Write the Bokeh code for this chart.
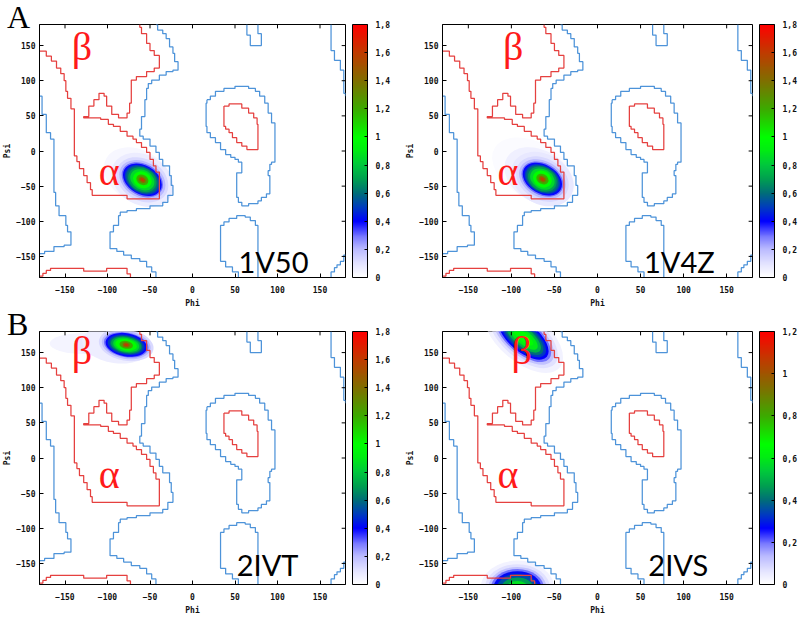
import numpy as np
from bokeh.plotting import figure
from bokeh.models import (Range1d, FixedTicker, ColorBar, LinearColorMapper,
                          Label, ColumnDataSource, Div)
from bokeh.layouts import column, row
from bokeh.embed import file_html
from bokeh.resources import INLINE

# ---------------- data ----------------
phi_ticks = [-150, -100, -50, 0, 50, 100, 150]
psi_ticks = [-150, -100, -50, 0, 50, 100, 150]

cbar_ticks_18 = [0, 0.2, 0.4, 0.6, 0.8, 1, 1.2, 1.4, 1.6, 1.8]
cbar_labels_18 = ["0", "0,2", "0,4", "0,6", "0,8", "1", "1,2", "1,4", "1,6", "1,8"]
cbar_ticks_12 = [0, 0.2, 0.4, 0.6, 0.8, 1, 1.2]
cbar_labels_12 = ["0", "0,2", "0,4", "0,6", "0,8", "1", "1,2"]

structure_names = ["1V50", "1V4Z", "2IVT", "2IVS"]
panel_letters = ["A", "B"]
cbar_max = [1.8, 1.8, 1.8, 1.2]

# Ramachandran reference contours (phi, psi)
red_core_phi = [-180, -172, -166, -160, -155, -151, -149, -147, -143, -139, -139, -136, -133, -128, -124,
                -120, -118, -77, -77, -40, -39, -43, -46, -50, -54, -60, -66, -70, -77, -85, -93, -99,
                -108, -128, -122, -116, -110, -104, -101, -95, -87, -77, -74, -72, -66, -54, -45, -39,
                -39, -45, -50, -54, -60, -62]
red_core_psi = [142, 135, 128, 118, 110, 100, 85, 75, 60, 52, -7, -15, -25, -35, -45,
                -55, -63, -63, -68, -68, -30, -21, -12, -2, 5, 12, 17, 21, 28, 35, 38, 45,
                47, 49, 64, 73, 82, 78, 64, 52, 47, 54, 68, 101, 106, 113, 118, 125,
                136, 143, 153, 167, 176, 180]
red_bottom_phi = [-180, -176, -172, -167, -128, -128, -101, -101, -81, -77, -73]
red_bottom_psi = [-178, -174, -170, -167, -167, -171, -171, -167, -167, -175, -180]
red_left_helix_phi = [37, 43, 56, 58, 66, 72, 76, 77, 77, 64, 64, 58, 52, 47, 43, 39, 37, 37]
red_left_helix_psi = [64, 67, 67, 61, 54, 47, 38, 31, 2, 2, 7, 12, 19, 26, 31, 35, 38, 64]

blue_left_phi = [-180, -177, -177, -172, -172, -167, -163, -163, -161, -157, -149, -147, -143, -143,
                 -151, -163, -174, -180]
blue_left_psi = [78, 78, 52, 52, 26, 17, -7, -59, -78, -92, -106, -115, -125, -134,
                 -136, -143, -146, -148]
blue_mid_phi = [-43, -41, -35, -31, -27, -23, -21, -17, -23, -31, -39, -48, -52, -54, -56, -60, -62,
                -58, -50, -43, -39, -35, -27, -25, -23, -29, -35, -50, -66, -77, -85, -87, -93, -97,
                -97, -89, -81, -72, -62, -54, -48, -43]
blue_mid_psi = [180, 172, 167, 160, 148, 139, 127, 115, 113, 108, 101, 96, 89, 73, 49, 31, 21,
                17, 7, -2, -12, -21, -35, -49, -63, -73, -78, -82, -85, -87, -92, -106, -115, -125,
                -139, -143, -148, -153, -157, -165, -172, -180]
blue_right_phi = [17, 21, 27, 37, 50, 66, 74, 79, 85, 89, 93, 97, 97, 93, 91, 89, 91, 91, 87, 81, 77,
                  66, 58, 54, 52, 52, 58, 58, 54, 50, 45, 39, 33, 27, 21, 17, 16, 16, 17]
blue_right_psi = [73, 78, 85, 89, 92, 89, 85, 78, 68, 54, 40, 24, -16, -19, -28, -35, -47, -61, -66,
                  -71, -75, -78, -73, -66, -54, -31, -26, -16, -12, -9, -5, 2, 12, 19, 26, 35, 49,
                  68, 73]
blue_low_phi = [58, 54, 47, 39, 33, 33, 37, 43, 52, 62, 68, 74, 77, 77]
blue_low_psi = [-180, -172, -165, -157, -153, -106, -101, -96, -92, -94, -99, -106, -115, -180]
blue_top_phi = [64, 64, 68, 68, 81, 81, 77, 77]
blue_top_psi = [180, 165, 165, 150, 150, 167, 167, 180]
blue_edge_top_phi = [163, 163, 167, 167, 174, 178, 178, 180]
blue_edge_top_psi = [180, 143, 143, 129, 115, 101, 82, 78]
blue_edge_bot_phi = [163, 163, 167, 170, 174, 178, 180]
blue_edge_bot_psi = [-180, -172, -166, -162, -157, -148, -148]

# density blobs: centre (phi, psi), size (deg), tilt (deg) and level
blob_1v50_phi = [-64] + [-59] * 13
blob_1v50_psi = [-36] + [-41] * 13
blob_1v50_w = [86, 77, 65, 58, 52, 49, 44, 40, 35, 30, 23, 15, 9, 5]
blob_1v50_h = [74, 71, 59, 51, 45, 41, 38, 35, 33, 28, 23, 14, 8, 4]
blob_1v50_ang = [-30] * 14
blob_1v50_lev = [0.03, 0.07, 0.12, 0.2, 0.3, 0.4, 0.5, 0.6, 0.7, 0.85, 1.0, 1.2, 1.4, 1.6]

blob_1v4z_phi = [-74, -68] + [-64] * 13
blob_1v4z_psi = [-28, -36] + [-40] * 13
blob_1v4z_w = [105, 86, 77, 65, 58, 52, 49, 44, 40, 35, 30, 23, 15, 9, 5]
blob_1v4z_h = [80, 74, 71, 59, 51, 45, 41, 38, 35, 33, 28, 23, 14, 8, 4]
blob_1v4z_ang = [-30] * 15
blob_1v4z_lev = [0.02, 0.05, 0.08, 0.12, 0.2, 0.3, 0.4, 0.5, 0.6, 0.7, 0.85, 1.0, 1.2, 1.4, 1.6]

blob_2ivt_phi = [-128, -108, -90] + [-78] * 12
blob_2ivt_psi = [163, 162, 161] + [161] * 12
blob_2ivt_w = [80, 60, 80, 65, 58, 53, 49, 44, 39, 36, 31, 26, 16, 9, 5]
blob_2ivt_h = [30, 34, 52, 45, 40, 35, 33, 28, 25, 23, 20, 16, 11, 7, 4]
blob_2ivt_ang = [0, 0, -8] + [-10] * 12
blob_2ivt_lev = [0.04, 0.08, 0.06, 0.12, 0.2, 0.3, 0.4, 0.5, 0.6, 0.7, 0.85, 1.0, 1.2, 1.4, 1.6]

blob_2ivs_phi = [-86] * 10 + [-93] * 8
blob_2ivs_psi = [172] * 10 + [-186] * 8
blob_2ivs_w = [110, 96, 86, 78, 71, 64, 57, 50, 41, 28, 86, 76, 68, 62, 56, 48, 38, 26]
blob_2ivs_h = [70, 60, 52, 46, 41, 36, 31, 26, 20, 13, 80, 70, 62, 56, 50, 42, 32, 22]
blob_2ivs_ang = [-40] * 10 + [0] * 8
blob_2ivs_lev = [0.03, 0.07, 0.12, 0.2, 0.27, 0.33, 0.4, 0.5, 0.6, 0.66,
                 0.03, 0.07, 0.12, 0.2, 0.28, 0.36, 0.46, 0.58]

# colour scale stops (value on a 0..1.8 scale)
heat_stop_vals = [0, 0.1, 0.2, 0.3, 0.4, 0.5, 0.6, 0.7, 0.8, 0.9, 1.0, 1.2, 1.4, 1.6, 1.8]
heat_stop_rgb = [(255, 255, 255), (225, 225, 255), (185, 185, 255), (110, 110, 255), (0, 0, 255),
                 (0, 60, 190), (0, 110, 120), (0, 160, 80), (0, 200, 60), (0, 235, 20), (0, 255, 0),
                 (60, 170, 0), (128, 110, 0), (190, 60, 0), (255, 0, 0)]

# ---------------- helpers ----------------
def stepify(xs, ys):
    ox, oy = [xs[0]], [ys[0]]
    for x0, y0, x1, y1 in zip(xs[:-1], ys[:-1], xs[1:], ys[1:]):
        if x0 != x1 and y0 != y1:
            ox.append(x1)
            oy.append(y0)
        ox.append(x1)
        oy.append(y1)
    return ox, oy


t = np.linspace(0, 1.8, 256)
rgb = np.array(heat_stop_rgb, dtype=float)
chan = [np.interp(t, heat_stop_vals, rgb[:, k]) for k in range(3)]
palette = ["#%02x%02x%02x" % (int(round(r)), int(round(g)), int(round(b)))
           for r, g, b in zip(*chan)]

RED = "#e5403f"
BLUE = "#4d93d9"
contours = [
    (red_core_phi, red_core_psi, RED), (red_bottom_phi, red_bottom_psi, RED),
    (red_left_helix_phi, red_left_helix_psi, RED),
    (blue_left_phi, blue_left_psi, BLUE), (blue_mid_phi, blue_mid_psi, BLUE),
    (blue_right_phi, blue_right_psi, BLUE), (blue_low_phi, blue_low_psi, BLUE),
    (blue_top_phi, blue_top_psi, BLUE), (blue_edge_top_phi, blue_edge_top_psi, BLUE),
    (blue_edge_bot_phi, blue_edge_bot_psi, BLUE),
]

blobs = [
    (blob_1v50_phi, blob_1v50_psi, blob_1v50_w, blob_1v50_h, blob_1v50_ang, blob_1v50_lev),
    (blob_1v4z_phi, blob_1v4z_psi, blob_1v4z_w, blob_1v4z_h, blob_1v4z_ang, blob_1v4z_lev),
    (blob_2ivt_phi, blob_2ivt_psi, blob_2ivt_w, blob_2ivt_h, blob_2ivt_ang, blob_2ivt_lev),
    (blob_2ivs_phi, blob_2ivs_psi, blob_2ivs_w, blob_2ivs_h, blob_2ivs_ang, blob_2ivs_lev),
]

beta_pos = [(-130, 148), (-98, 148), (-130, 153), (-88, 153)]
alpha_pos = [(-98, -29), (-104, -29), (-98, -24), (-104, -24)]
name_pos = [(54, -157), (54, -157), (52, -152), (59, -152)]
# width, height, left, right, top, bottom
geom = [(400, 310, 35, 55, 24, 32), (400, 310, 42, 48, 24, 32),
        (400, 310, 35, 55, 21, 36), (400, 310, 42, 48, 21, 36)]

MONO = "DejaVu Sans Mono"
SERIF = "Liberation Serif"


def style_axis(ax, ticks, label_standoff, title_standoff):
    ax.ticker = FixedTicker(ticks=ticks)
    ax.major_tick_in = 4
    ax.major_tick_out = 0
    ax.minor_tick_line_color = None
    ax.major_tick_line_color = "black"
    ax.axis_line_color = "black"
    ax.major_label_text_font = MONO
    ax.major_label_text_font_style = "bold"
    ax.major_label_text_font_size = "8px"
    ax.major_label_text_color = "#111111"
    ax.axis_label_text_font = MONO
    ax.axis_label_text_font_style = "bold"
    ax.axis_label_text_font_size = "8px"
    ax.axis_label_text_color = "#111111"
    ax.major_label_standoff = label_standoff
    ax.axis_label_standoff = title_standoff


def make_panel(i):
    w, h, bl, br, bt, bb = geom[i]
    p = figure(width=w, height=h, title=None,
               x_range=Range1d(-180, 180), y_range=Range1d(-180, 180),
               output_backend="svg", toolbar_location=None,
               min_border_left=bl, min_border_right=br, min_border_top=bt, min_border_bottom=bb,
               x_axis_label="Phi", y_axis_label="Psi",
               background_fill_color="white", border_fill_color="white",
               outline_line_color="black", outline_line_width=1)
    p.grid.visible = False
    style_axis(p.xaxis[0], phi_ticks, 8, 3)
    style_axis(p.yaxis[0], psi_ticks, 4, 1)

    vmax = cbar_max[i]
    mapper = LinearColorMapper(palette=palette, low=0, high=vmax)
    bx, by, bw, bh, ba, lv = blobs[i]
    src = ColumnDataSource(dict(x=bx, y=by, w=bw, h=bh, a=ba, lev=lv))
    p.ellipse(x="x", y="y", width="w", height="h", angle="a", angle_units="deg", source=src,
              fill_color={"field": "lev", "transform": mapper}, line_color=None)

    for xs, ys, col in contours:
        sx, sy = stepify(xs, ys)
        p.line(sx, sy, line_color=col, line_width=1.25)

    # mirrored tick marks on the top and right edges of the frame
    n = len(phi_ticks)
    p.segment(x0=phi_ticks, y0=[180] * n, x1=phi_ticks, y1=[174.5] * n, line_color="black", line_width=1)
    m = len(psi_ticks)
    p.segment(x0=[180] * m, y0=psi_ticks, x1=[175.5] * m, y1=psi_ticks, line_color="black", line_width=1)

    ticks = cbar_ticks_18 if vmax > 1.5 else cbar_ticks_12
    labels = cbar_labels_18 if vmax > 1.5 else cbar_labels_12
    cb = ColorBar(color_mapper=mapper, ticker=FixedTicker(ticks=ticks),
                  major_label_overrides=dict(zip(ticks, labels)),
                  width=15, height="auto", padding=0, margin=0, location=(7, 0),
                  major_label_text_font=MONO, major_label_text_font_style="bold",
                  major_label_text_font_size="8px", major_label_text_color="#111111",
                  major_tick_line_color="black", major_tick_in=3, major_tick_out=0,
                  minor_tick_line_color=None, bar_line_color="black",
                  label_standoff=8, border_line_color=None, background_fill_color=None)
    p.add_layout(cb, "right")

    p.add_layout(Label(x=beta_pos[i][0], y=beta_pos[i][1], text="β", text_color="#ff1a1a",
                       text_font=SERIF, text_font_size="40px", text_align="center",
                       text_baseline="alphabetic"))
    p.add_layout(Label(x=alpha_pos[i][0], y=alpha_pos[i][1], text="α", text_color="#ff1a1a",
                       text_font=SERIF, text_font_size="40px", text_align="center",
                       text_baseline="alphabetic"))
    p.add_layout(Label(x=name_pos[i][0], y=name_pos[i][1], text=structure_names[i],
                       text_color="black", text_font="Lato", text_font_size="29px",
                       text_align="left", text_baseline="alphabetic"))
    return p


def letter_div(txt, top):
    return Div(text=txt, width=24, height=30,
               styles={"position": "absolute", "left": "2px", "top": "%dpx" % top,
                       "font-family": SERIF, "font-size": "32px", "line-height": "30px",
                       "color": "black", "z-index": "10"})


panels = [make_panel(i) for i in range(4)]
layout = column(letter_div(panel_letters[0], -3), row(panels[0], panels[1], spacing=0),
                letter_div(panel_letters[1], 304), row(panels[2], panels[3], spacing=0), spacing=0)
open("out.html", "w").write(file_html(layout, INLINE))
